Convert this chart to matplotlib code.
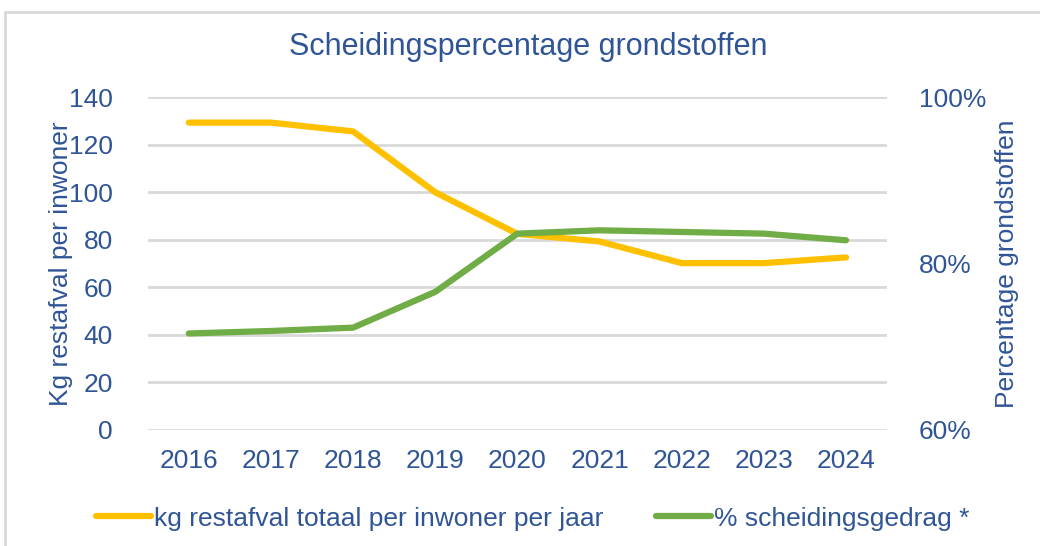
import matplotlib.pyplot as plt
from matplotlib.patches import Rectangle
from matplotlib.ticker import FuncFormatter

plt.rcParams['font.family'] = ['Liberation Sans', 'DejaVu Sans']

# data
years = ['2016', '2017', '2018', '2019', '2020', '2021', '2022', '2023', '2024']
kg_restafval = [129.3, 129.3, 125.6, 100.0, 82.5, 79.3, 70.2, 70.2, 72.6]
pct_scheiding = [71.6, 71.9, 72.3, 76.6, 83.6, 84.0, 83.8, 83.6, 82.8]

txt = '#2F5597'
yellow = '#FFC000'
green = '#70AD47'
grid = '#D9D9D9'
fs = 19

fig = plt.figure(figsize=(10.4, 5.46), dpi=100)
ax = fig.add_axes([0.142, 0.2125, 0.711, 0.6095])
ax2 = ax.twinx()

x = range(len(years))
l1, = ax.plot(x, kg_restafval, color=yellow, lw=4.5, solid_capstyle='round',
              label='kg restafval totaal per inwoner per jaar', zorder=3)
l2, = ax2.plot(x, pct_scheiding, color=green, lw=4.5, solid_capstyle='round',
               label='% scheidingsgedrag *', zorder=3)

ax.set_xlim(-0.5, len(years) - 0.5)
ax.set_ylim(0, 140)
ax.set_yticks(range(0, 141, 20))
ax2.set_ylim(60, 100)
ax2.set_yticks([60, 80, 100])
ax2.yaxis.set_major_formatter(FuncFormatter(lambda v, p: f'{v:.0f}%'))
ax.set_xticks(list(x))
ax.set_xticklabels(years)

ax.yaxis.grid(True, color=grid, lw=2)
ax.set_axisbelow(True)
for a in (ax, ax2):
    for s in a.spines.values():
        s.set_visible(False)
    a.tick_params(length=0, labelsize=fs, colors=txt)
ax.tick_params(axis='y', pad=25)
ax.tick_params(axis='x', pad=14)
ax2.tick_params(axis='y', pad=23)

ax.set_ylabel('Kg restafval per inwoner', fontsize=fs, color=txt, labelpad=-3)
ax2.set_ylabel('Percentage grondstoffen', fontsize=fs, color=txt, labelpad=6)

fig.text(0.508, 0.914, 'Scheidingspercentage grondstoffen', fontsize=22,
         color=txt, ha='center', va='center')

leg = fig.legend(handles=[l1, l2], loc='center', bbox_to_anchor=(0.512, 0.05),
                 ncol=2, frameon=False, fontsize=fs, handlelength=2.1,
                 handletextpad=0.1, columnspacing=2.0)
for t in leg.get_texts():
    t.set_color(txt)

# light frame around the chart area
fig.patches.append(Rectangle((5 / 1040, -0.1), 1.2, 1.1 - 12 / 546,
                             transform=fig.transFigure, fill=False,
                             edgecolor='#D9D9D9', lw=2))

fig.savefig('out.png', dpi=100)
